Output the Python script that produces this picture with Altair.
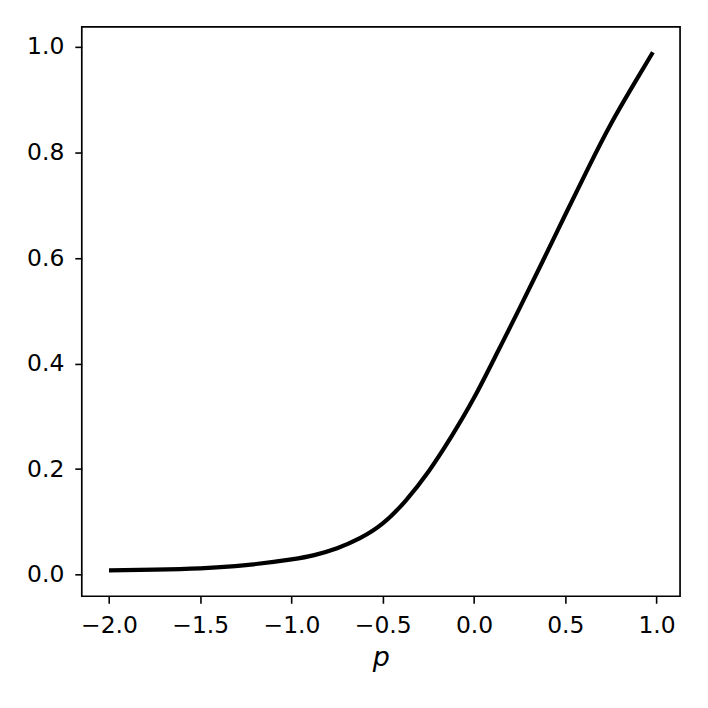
import altair as alt
import pandas as pd

p_values = [-2.0, -1.75, -1.5, -1.25, -1.0, -0.875, -0.75, -0.625, -0.5, -0.375,
            -0.25, -0.125, 0.0, 0.125, 0.25, 0.375, 0.5, 0.625, 0.75, 0.875, 0.98]
y_values = [0.008, 0.0095, 0.012, 0.018, 0.029, 0.037, 0.050, 0.069, 0.097, 0.140,
            0.195, 0.261, 0.335, 0.419, 0.505, 0.593, 0.682, 0.770, 0.854, 0.929, 0.990]
x_ticks = [-2.0, -1.5, -1.0, -0.5, 0.0, 0.5, 1.0]
y_ticks = [0.0, 0.2, 0.4, 0.6, 0.8, 1.0]

df = pd.DataFrame({"p": p_values, "y": y_values})

FONT = "DejaVu Sans"

chart = alt.Chart(df).mark_line(color="black", strokeWidth=4.2, interpolate="natural").encode(
    x=alt.X("p:Q",
            scale=alt.Scale(domain=[-2.149, 1.129], nice=False, zero=False),
            axis=alt.Axis(values=x_ticks, format=".1f", title="p", grid=False,
                          domain=False, tickSize=7, tickWidth=1.6, tickColor="black",
                          labelPadding=10, labelFontSize=23.5, labelFont=FONT,
                          labelColor="black", labelFlush=False,
                          titleFont=FONT, titleFontSize=27, titleFontStyle="italic",
                          titleFontWeight="normal", titleColor="black",
                          titleBaseline="top", titleY=48)),
    y=alt.Y("y:Q",
            scale=alt.Scale(domain=[-0.041, 1.038], nice=False, zero=False),
            axis=alt.Axis(values=y_ticks, format=".1f", title=None, grid=False,
                          domain=False, tickSize=7, tickWidth=1.6, tickColor="black",
                          labelPadding=11, labelFontSize=23.5, labelFont=FONT,
                          labelColor="black", labelFlush=False)),
).properties(
    width=600,
    height=571,
    background="white",
    autosize=alt.AutoSizeParams(type="none"),
    padding={"left": 74, "top": 18, "right": 20, "bottom": 80},
).configure_view(
    stroke="black", strokeWidth=1.7
)

chart.save("out.html", embed_options={"renderer": "svg", "actions": False})
